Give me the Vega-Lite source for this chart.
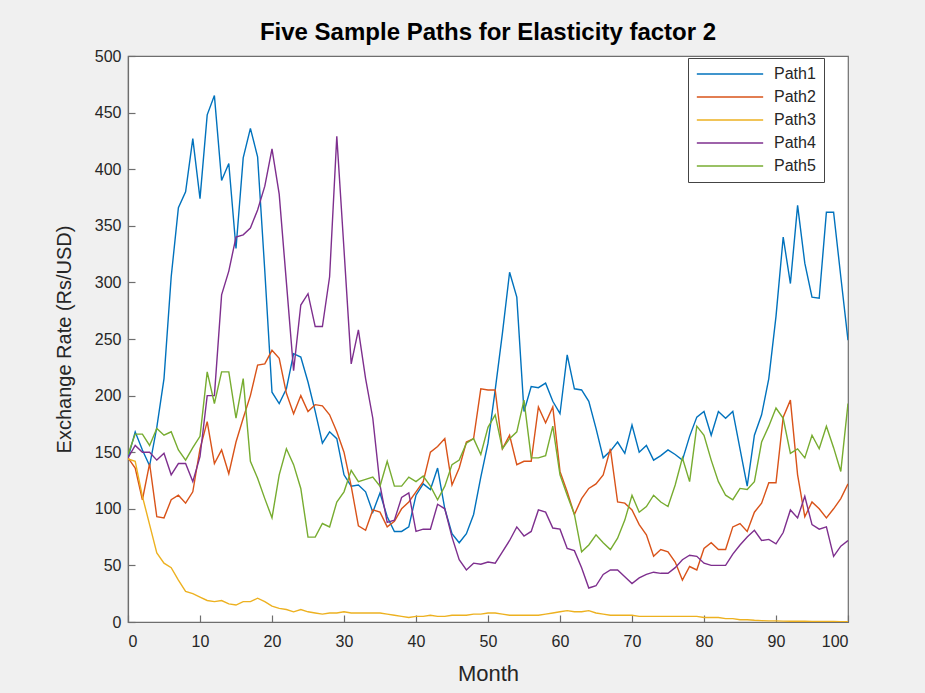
{
  "$schema": "https://vega.github.io/schema/vega-lite/v6.json",
  "autosize": "none",
  "width": 720,
  "height": 566,
  "padding": {"left": 128, "top": 56, "right": 77, "bottom": 71},
  "background": "#f0f0f0",
  "title": {"text": "Five Sample Paths for Elasticity factor 2", "font": "Liberation Sans", "fontSize": 24, "fontWeight": "bold", "color": "#000000", "offset": 3, "anchor": "middle"},
  "config": {
    "view": {"fill": "#ffffff", "stroke": "#6e6e6e", "strokeWidth": 1.2},
    "font": "Liberation Sans",
    "axis": {"grid": false, "domainColor": "#6e6e6e", "domainWidth": 1.2, "tickColor": "#6e6e6e", "tickWidth": 1.2, "tickSize": -7, "labelFont": "Liberation Sans", "labelFontSize": 16, "labelColor": "#262626", "titleFont": "Liberation Sans", "titleFontWeight": "normal", "titleColor": "#262626"}
  },
  "datasets": {
    "paths": [
{"m":0,"s":"Path1","v":145},{"m":1,"s":"Path1","v":168},{"m":2,"s":"Path1","v":152},{"m":3,"s":"Path1","v":138},{"m":4,"s":"Path1","v":172},{"m":5,"s":"Path1","v":215},{"m":6,"s":"Path1","v":305},{"m":7,"s":"Path1","v":366},{"m":8,"s":"Path1","v":380},{"m":9,"s":"Path1","v":427},
{"m":10,"s":"Path1","v":374},{"m":11,"s":"Path1","v":448},{"m":12,"s":"Path1","v":465},{"m":13,"s":"Path1","v":390},{"m":14,"s":"Path1","v":405},{"m":15,"s":"Path1","v":330},{"m":16,"s":"Path1","v":410},{"m":17,"s":"Path1","v":436},{"m":18,"s":"Path1","v":411},{"m":19,"s":"Path1","v":310},
{"m":20,"s":"Path1","v":203},{"m":21,"s":"Path1","v":193},{"m":22,"s":"Path1","v":206},{"m":23,"s":"Path1","v":237},{"m":24,"s":"Path1","v":234},{"m":25,"s":"Path1","v":212},{"m":26,"s":"Path1","v":186},{"m":27,"s":"Path1","v":158},{"m":28,"s":"Path1","v":168},{"m":29,"s":"Path1","v":162},
{"m":30,"s":"Path1","v":130},{"m":31,"s":"Path1","v":120},{"m":32,"s":"Path1","v":121},{"m":33,"s":"Path1","v":115},{"m":34,"s":"Path1","v":97},{"m":35,"s":"Path1","v":114},{"m":36,"s":"Path1","v":93},{"m":37,"s":"Path1","v":80},{"m":38,"s":"Path1","v":80},{"m":39,"s":"Path1","v":84},
{"m":40,"s":"Path1","v":112},{"m":41,"s":"Path1","v":122},{"m":42,"s":"Path1","v":117},{"m":43,"s":"Path1","v":136},{"m":44,"s":"Path1","v":100},{"m":45,"s":"Path1","v":78},{"m":46,"s":"Path1","v":70},{"m":47,"s":"Path1","v":78},{"m":48,"s":"Path1","v":95},{"m":49,"s":"Path1","v":128},
{"m":50,"s":"Path1","v":158},{"m":51,"s":"Path1","v":205},{"m":52,"s":"Path1","v":255},{"m":53,"s":"Path1","v":309},{"m":54,"s":"Path1","v":287},{"m":55,"s":"Path1","v":186},{"m":56,"s":"Path1","v":208},{"m":57,"s":"Path1","v":207},{"m":58,"s":"Path1","v":211},{"m":59,"s":"Path1","v":195},
{"m":60,"s":"Path1","v":184},{"m":61,"s":"Path1","v":236},{"m":62,"s":"Path1","v":206},{"m":63,"s":"Path1","v":205},{"m":64,"s":"Path1","v":195},{"m":65,"s":"Path1","v":171},{"m":66,"s":"Path1","v":145},{"m":67,"s":"Path1","v":151},{"m":68,"s":"Path1","v":159},{"m":69,"s":"Path1","v":149},
{"m":70,"s":"Path1","v":174},{"m":71,"s":"Path1","v":150},{"m":72,"s":"Path1","v":156},{"m":73,"s":"Path1","v":143},{"m":74,"s":"Path1","v":147},{"m":75,"s":"Path1","v":152},{"m":76,"s":"Path1","v":148},{"m":77,"s":"Path1","v":143},{"m":78,"s":"Path1","v":164},{"m":79,"s":"Path1","v":181},
{"m":80,"s":"Path1","v":186},{"m":81,"s":"Path1","v":165},{"m":82,"s":"Path1","v":186},{"m":83,"s":"Path1","v":180},{"m":84,"s":"Path1","v":186},{"m":85,"s":"Path1","v":153},{"m":86,"s":"Path1","v":120},{"m":87,"s":"Path1","v":165},{"m":88,"s":"Path1","v":183},{"m":89,"s":"Path1","v":215},
{"m":90,"s":"Path1","v":270},{"m":91,"s":"Path1","v":340},{"m":92,"s":"Path1","v":299},{"m":93,"s":"Path1","v":368},{"m":94,"s":"Path1","v":317},{"m":95,"s":"Path1","v":287},{"m":96,"s":"Path1","v":286},{"m":97,"s":"Path1","v":362},{"m":98,"s":"Path1","v":362},{"m":99,"s":"Path1","v":305},{"m":100,"s":"Path1","v":249},
{"m":0,"s":"Path2","v":145},{"m":1,"s":"Path2","v":136},{"m":2,"s":"Path2","v":108},{"m":3,"s":"Path2","v":140},{"m":4,"s":"Path2","v":93},{"m":5,"s":"Path2","v":92},{"m":6,"s":"Path2","v":108},{"m":7,"s":"Path2","v":112},{"m":8,"s":"Path2","v":105},{"m":9,"s":"Path2","v":115},
{"m":10,"s":"Path2","v":153},{"m":11,"s":"Path2","v":177},{"m":12,"s":"Path2","v":140},{"m":13,"s":"Path2","v":152},{"m":14,"s":"Path2","v":131},{"m":15,"s":"Path2","v":159},{"m":16,"s":"Path2","v":180},{"m":17,"s":"Path2","v":200},{"m":18,"s":"Path2","v":227},{"m":19,"s":"Path2","v":228},
{"m":20,"s":"Path2","v":240},{"m":21,"s":"Path2","v":233},{"m":22,"s":"Path2","v":202},{"m":23,"s":"Path2","v":184},{"m":24,"s":"Path2","v":200},{"m":25,"s":"Path2","v":186},{"m":26,"s":"Path2","v":192},{"m":27,"s":"Path2","v":191},{"m":28,"s":"Path2","v":183},{"m":29,"s":"Path2","v":168},
{"m":30,"s":"Path2","v":150},{"m":31,"s":"Path2","v":120},{"m":32,"s":"Path2","v":85},{"m":33,"s":"Path2","v":81},{"m":34,"s":"Path2","v":99},{"m":35,"s":"Path2","v":97},{"m":36,"s":"Path2","v":84},{"m":37,"s":"Path2","v":89},{"m":38,"s":"Path2","v":100},{"m":39,"s":"Path2","v":106},
{"m":40,"s":"Path2","v":115},{"m":41,"s":"Path2","v":124},{"m":42,"s":"Path2","v":150},{"m":43,"s":"Path2","v":155},{"m":44,"s":"Path2","v":162},{"m":45,"s":"Path2","v":121},{"m":46,"s":"Path2","v":136},{"m":47,"s":"Path2","v":159},{"m":48,"s":"Path2","v":162},{"m":49,"s":"Path2","v":206},
{"m":50,"s":"Path2","v":205},{"m":51,"s":"Path2","v":205},{"m":52,"s":"Path2","v":153},{"m":53,"s":"Path2","v":165},{"m":54,"s":"Path2","v":139},{"m":55,"s":"Path2","v":142},{"m":56,"s":"Path2","v":142},{"m":57,"s":"Path2","v":190},{"m":58,"s":"Path2","v":176},{"m":59,"s":"Path2","v":190},
{"m":60,"s":"Path2","v":133},{"m":61,"s":"Path2","v":115},{"m":62,"s":"Path2","v":95},{"m":63,"s":"Path2","v":109},{"m":64,"s":"Path2","v":118},{"m":65,"s":"Path2","v":122},{"m":66,"s":"Path2","v":130},{"m":67,"s":"Path2","v":153},{"m":68,"s":"Path2","v":106},{"m":69,"s":"Path2","v":105},
{"m":70,"s":"Path2","v":99},{"m":71,"s":"Path2","v":86},{"m":72,"s":"Path2","v":77},{"m":73,"s":"Path2","v":58},{"m":74,"s":"Path2","v":64},{"m":75,"s":"Path2","v":62},{"m":76,"s":"Path2","v":53},{"m":77,"s":"Path2","v":37},{"m":78,"s":"Path2","v":49},{"m":79,"s":"Path2","v":46},
{"m":80,"s":"Path2","v":65},{"m":81,"s":"Path2","v":70},{"m":82,"s":"Path2","v":64},{"m":83,"s":"Path2","v":64},{"m":84,"s":"Path2","v":84},{"m":85,"s":"Path2","v":87},{"m":86,"s":"Path2","v":80},{"m":87,"s":"Path2","v":97},{"m":88,"s":"Path2","v":105},{"m":89,"s":"Path2","v":123},
{"m":90,"s":"Path2","v":123},{"m":91,"s":"Path2","v":181},{"m":92,"s":"Path2","v":196},{"m":93,"s":"Path2","v":130},{"m":94,"s":"Path2","v":93},{"m":95,"s":"Path2","v":106},{"m":96,"s":"Path2","v":100},{"m":97,"s":"Path2","v":92},{"m":98,"s":"Path2","v":100},{"m":99,"s":"Path2","v":109},{"m":100,"s":"Path2","v":122},
{"m":0,"s":"Path3","v":144},{"m":1,"s":"Path3","v":142},{"m":2,"s":"Path3","v":111},{"m":3,"s":"Path3","v":86},{"m":4,"s":"Path3","v":61},{"m":5,"s":"Path3","v":52},{"m":6,"s":"Path3","v":48},{"m":7,"s":"Path3","v":37},{"m":8,"s":"Path3","v":27},{"m":9,"s":"Path3","v":25},
{"m":10,"s":"Path3","v":22},{"m":11,"s":"Path3","v":19},{"m":12,"s":"Path3","v":18},{"m":13,"s":"Path3","v":19},{"m":14,"s":"Path3","v":16},{"m":15,"s":"Path3","v":15},{"m":16,"s":"Path3","v":18},{"m":17,"s":"Path3","v":18},{"m":18,"s":"Path3","v":21},{"m":19,"s":"Path3","v":18},
{"m":20,"s":"Path3","v":14},{"m":21,"s":"Path3","v":12},{"m":22,"s":"Path3","v":11},{"m":23,"s":"Path3","v":9},{"m":24,"s":"Path3","v":11},{"m":25,"s":"Path3","v":9},{"m":26,"s":"Path3","v":8},{"m":27,"s":"Path3","v":7},{"m":28,"s":"Path3","v":8},{"m":29,"s":"Path3","v":8},
{"m":30,"s":"Path3","v":9},{"m":31,"s":"Path3","v":8},{"m":32,"s":"Path3","v":8},{"m":33,"s":"Path3","v":8},{"m":34,"s":"Path3","v":8},{"m":35,"s":"Path3","v":8},{"m":36,"s":"Path3","v":7},{"m":37,"s":"Path3","v":6},{"m":38,"s":"Path3","v":5},{"m":39,"s":"Path3","v":4},
{"m":40,"s":"Path3","v":5},{"m":41,"s":"Path3","v":5},{"m":42,"s":"Path3","v":6},{"m":43,"s":"Path3","v":5},{"m":44,"s":"Path3","v":5},{"m":45,"s":"Path3","v":6},{"m":46,"s":"Path3","v":6},{"m":47,"s":"Path3","v":6},{"m":48,"s":"Path3","v":7},{"m":49,"s":"Path3","v":7},
{"m":50,"s":"Path3","v":8},{"m":51,"s":"Path3","v":8},{"m":52,"s":"Path3","v":7},{"m":53,"s":"Path3","v":6},{"m":54,"s":"Path3","v":6},{"m":55,"s":"Path3","v":6},{"m":56,"s":"Path3","v":6},{"m":57,"s":"Path3","v":6},{"m":58,"s":"Path3","v":7},{"m":59,"s":"Path3","v":8},
{"m":60,"s":"Path3","v":9},{"m":61,"s":"Path3","v":10},{"m":62,"s":"Path3","v":9},{"m":63,"s":"Path3","v":9},{"m":64,"s":"Path3","v":10},{"m":65,"s":"Path3","v":8},{"m":66,"s":"Path3","v":7},{"m":67,"s":"Path3","v":6},{"m":68,"s":"Path3","v":6},{"m":69,"s":"Path3","v":6},
{"m":70,"s":"Path3","v":6},{"m":71,"s":"Path3","v":5},{"m":72,"s":"Path3","v":5},{"m":73,"s":"Path3","v":5},{"m":74,"s":"Path3","v":5},{"m":75,"s":"Path3","v":5},{"m":76,"s":"Path3","v":5},{"m":77,"s":"Path3","v":5},{"m":78,"s":"Path3","v":5},{"m":79,"s":"Path3","v":5},
{"m":80,"s":"Path3","v":4},{"m":81,"s":"Path3","v":4},{"m":82,"s":"Path3","v":4},{"m":83,"s":"Path3","v":3},{"m":84,"s":"Path3","v":3},{"m":85,"s":"Path3","v":2},{"m":86,"s":"Path3","v":2},{"m":87,"s":"Path3","v":1.5},{"m":88,"s":"Path3","v":1.2},{"m":89,"s":"Path3","v":1},
{"m":90,"s":"Path3","v":1},{"m":91,"s":"Path3","v":0.8},{"m":92,"s":"Path3","v":0.7},{"m":93,"s":"Path3","v":0.6},{"m":94,"s":"Path3","v":0.6},{"m":95,"s":"Path3","v":0.5},{"m":96,"s":"Path3","v":0.5},{"m":97,"s":"Path3","v":0.4},{"m":98,"s":"Path3","v":0.4},{"m":99,"s":"Path3","v":0.3},{"m":100,"s":"Path3","v":0.3},
{"m":0,"s":"Path4","v":145},{"m":1,"s":"Path4","v":156},{"m":2,"s":"Path4","v":150},{"m":3,"s":"Path4","v":150},{"m":4,"s":"Path4","v":143},{"m":5,"s":"Path4","v":149},{"m":6,"s":"Path4","v":130},{"m":7,"s":"Path4","v":140},{"m":8,"s":"Path4","v":140},{"m":9,"s":"Path4","v":124},
{"m":10,"s":"Path4","v":146},{"m":11,"s":"Path4","v":200},{"m":12,"s":"Path4","v":200},{"m":13,"s":"Path4","v":289},{"m":14,"s":"Path4","v":310},{"m":15,"s":"Path4","v":340},{"m":16,"s":"Path4","v":342},{"m":17,"s":"Path4","v":348},{"m":18,"s":"Path4","v":364},{"m":19,"s":"Path4","v":385},
{"m":20,"s":"Path4","v":418},{"m":21,"s":"Path4","v":378},{"m":22,"s":"Path4","v":300},{"m":23,"s":"Path4","v":222},{"m":24,"s":"Path4","v":280},{"m":25,"s":"Path4","v":290},{"m":26,"s":"Path4","v":261},{"m":27,"s":"Path4","v":261},{"m":28,"s":"Path4","v":305},{"m":29,"s":"Path4","v":429},
{"m":30,"s":"Path4","v":329},{"m":31,"s":"Path4","v":228},{"m":32,"s":"Path4","v":258},{"m":33,"s":"Path4","v":215},{"m":34,"s":"Path4","v":180},{"m":35,"s":"Path4","v":121},{"m":36,"s":"Path4","v":88},{"m":37,"s":"Path4","v":90},{"m":38,"s":"Path4","v":110},{"m":39,"s":"Path4","v":114},
{"m":40,"s":"Path4","v":80},{"m":41,"s":"Path4","v":82},{"m":42,"s":"Path4","v":82},{"m":43,"s":"Path4","v":104},{"m":44,"s":"Path4","v":100},{"m":45,"s":"Path4","v":75},{"m":46,"s":"Path4","v":55},{"m":47,"s":"Path4","v":46},{"m":48,"s":"Path4","v":52},{"m":49,"s":"Path4","v":51},
{"m":50,"s":"Path4","v":53},{"m":51,"s":"Path4","v":52},{"m":52,"s":"Path4","v":62},{"m":53,"s":"Path4","v":72},{"m":54,"s":"Path4","v":84},{"m":55,"s":"Path4","v":76},{"m":56,"s":"Path4","v":80},{"m":57,"s":"Path4","v":99},{"m":58,"s":"Path4","v":97},{"m":59,"s":"Path4","v":83},
{"m":60,"s":"Path4","v":82},{"m":61,"s":"Path4","v":65},{"m":62,"s":"Path4","v":63},{"m":63,"s":"Path4","v":48},{"m":64,"s":"Path4","v":30},{"m":65,"s":"Path4","v":32},{"m":66,"s":"Path4","v":42},{"m":67,"s":"Path4","v":46},{"m":68,"s":"Path4","v":46},{"m":69,"s":"Path4","v":40},
{"m":70,"s":"Path4","v":34},{"m":71,"s":"Path4","v":39},{"m":72,"s":"Path4","v":42},{"m":73,"s":"Path4","v":44},{"m":74,"s":"Path4","v":43},{"m":75,"s":"Path4","v":43},{"m":76,"s":"Path4","v":48},{"m":77,"s":"Path4","v":55},{"m":78,"s":"Path4","v":59},{"m":79,"s":"Path4","v":58},
{"m":80,"s":"Path4","v":52},{"m":81,"s":"Path4","v":50},{"m":82,"s":"Path4","v":50},{"m":83,"s":"Path4","v":50},{"m":84,"s":"Path4","v":60},{"m":85,"s":"Path4","v":68},{"m":86,"s":"Path4","v":75},{"m":87,"s":"Path4","v":81},{"m":88,"s":"Path4","v":72},{"m":89,"s":"Path4","v":73},
{"m":90,"s":"Path4","v":69},{"m":91,"s":"Path4","v":79},{"m":92,"s":"Path4","v":99},{"m":93,"s":"Path4","v":92},{"m":94,"s":"Path4","v":111},{"m":95,"s":"Path4","v":86},{"m":96,"s":"Path4","v":82},{"m":97,"s":"Path4","v":84},{"m":98,"s":"Path4","v":58},{"m":99,"s":"Path4","v":67},{"m":100,"s":"Path4","v":72},
{"m":0,"s":"Path5","v":148},{"m":1,"s":"Path5","v":166},{"m":2,"s":"Path5","v":166},{"m":3,"s":"Path5","v":156},{"m":4,"s":"Path5","v":171},{"m":5,"s":"Path5","v":165},{"m":6,"s":"Path5","v":168},{"m":7,"s":"Path5","v":152},{"m":8,"s":"Path5","v":143},{"m":9,"s":"Path5","v":154},
{"m":10,"s":"Path5","v":164},{"m":11,"s":"Path5","v":221},{"m":12,"s":"Path5","v":193},{"m":13,"s":"Path5","v":221},{"m":14,"s":"Path5","v":221},{"m":15,"s":"Path5","v":180},{"m":16,"s":"Path5","v":215},{"m":17,"s":"Path5","v":142},{"m":18,"s":"Path5","v":127},{"m":19,"s":"Path5","v":109},
{"m":20,"s":"Path5","v":92},{"m":21,"s":"Path5","v":130},{"m":22,"s":"Path5","v":153},{"m":23,"s":"Path5","v":139},{"m":24,"s":"Path5","v":118},{"m":25,"s":"Path5","v":75},{"m":26,"s":"Path5","v":75},{"m":27,"s":"Path5","v":87},{"m":28,"s":"Path5","v":84},{"m":29,"s":"Path5","v":106},
{"m":30,"s":"Path5","v":115},{"m":31,"s":"Path5","v":134},{"m":32,"s":"Path5","v":124},{"m":33,"s":"Path5","v":126},{"m":34,"s":"Path5","v":128},{"m":35,"s":"Path5","v":120},{"m":36,"s":"Path5","v":142},{"m":37,"s":"Path5","v":120},{"m":38,"s":"Path5","v":120},{"m":39,"s":"Path5","v":128},
{"m":40,"s":"Path5","v":124},{"m":41,"s":"Path5","v":129},{"m":42,"s":"Path5","v":120},{"m":43,"s":"Path5","v":108},{"m":44,"s":"Path5","v":120},{"m":45,"s":"Path5","v":139},{"m":46,"s":"Path5","v":143},{"m":47,"s":"Path5","v":158},{"m":48,"s":"Path5","v":162},{"m":49,"s":"Path5","v":148},
{"m":50,"s":"Path5","v":172},{"m":51,"s":"Path5","v":183},{"m":52,"s":"Path5","v":153},{"m":53,"s":"Path5","v":162},{"m":54,"s":"Path5","v":168},{"m":55,"s":"Path5","v":196},{"m":56,"s":"Path5","v":145},{"m":57,"s":"Path5","v":145},{"m":58,"s":"Path5","v":147},{"m":59,"s":"Path5","v":173},
{"m":60,"s":"Path5","v":130},{"m":61,"s":"Path5","v":112},{"m":62,"s":"Path5","v":95},{"m":63,"s":"Path5","v":62},{"m":64,"s":"Path5","v":68},{"m":65,"s":"Path5","v":77},{"m":66,"s":"Path5","v":70},{"m":67,"s":"Path5","v":64},{"m":68,"s":"Path5","v":74},{"m":69,"s":"Path5","v":90},
{"m":70,"s":"Path5","v":112},{"m":71,"s":"Path5","v":97},{"m":72,"s":"Path5","v":102},{"m":73,"s":"Path5","v":112},{"m":74,"s":"Path5","v":106},{"m":75,"s":"Path5","v":102},{"m":76,"s":"Path5","v":121},{"m":77,"s":"Path5","v":145},{"m":78,"s":"Path5","v":124},{"m":79,"s":"Path5","v":173},
{"m":80,"s":"Path5","v":165},{"m":81,"s":"Path5","v":143},{"m":82,"s":"Path5","v":124},{"m":83,"s":"Path5","v":112},{"m":84,"s":"Path5","v":108},{"m":85,"s":"Path5","v":118},{"m":86,"s":"Path5","v":117},{"m":87,"s":"Path5","v":124},{"m":88,"s":"Path5","v":159},{"m":89,"s":"Path5","v":173},
{"m":90,"s":"Path5","v":189},{"m":91,"s":"Path5","v":180},{"m":92,"s":"Path5","v":149},{"m":93,"s":"Path5","v":153},{"m":94,"s":"Path5","v":145},{"m":95,"s":"Path5","v":165},{"m":96,"s":"Path5","v":153},{"m":97,"s":"Path5","v":173},{"m":98,"s":"Path5","v":154},{"m":99,"s":"Path5","v":133},{"m":100,"s":"Path5","v":193}
    ]
  },
  "data": {"name": "paths"},
  "mark": {"type": "line", "strokeWidth": 1.4, "clip": true},
  "encoding": {
    "x": {"field": "m", "type": "quantitative", "title": "Month", "scale": {"domain": [0, 100], "nice": false}, "axis": {"values": [0,10,20,30,40,50,60,70,80,90,100], "labelPadding": 18, "titlePadding": 14, "titleFontSize": 22}},
    "y": {"field": "v", "type": "quantitative", "title": "Exchange Rate (Rs/USD)", "scale": {"domain": [0, 500], "nice": false}, "axis": {"values": [0,50,100,150,200,250,300,350,400,450,500], "labelPadding": 14, "titlePadding": 20, "titleFontSize": 20}},
    "color": {"field": "s", "type": "nominal", "scale": {"domain": ["Path1","Path2","Path3","Path4","Path5"], "range": ["#0072BD","#D95319","#EDB120","#7E2F8E","#77AC30"]},
      "legend": {"title": null, "orient": "none", "legendX": 560, "legendY": 2, "symbolType": "stroke", "symbolSize": 4400, "symbolStrokeWidth": 1.5, "labelFontSize": 16, "labelColor": "#262626", "labelFont": "Liberation Sans", "fillColor": "#ffffff", "strokeColor": "#444444", "padding": 8, "rowPadding": 7, "clipHeight": 16, "labelOffset": 10}}
  }
}
